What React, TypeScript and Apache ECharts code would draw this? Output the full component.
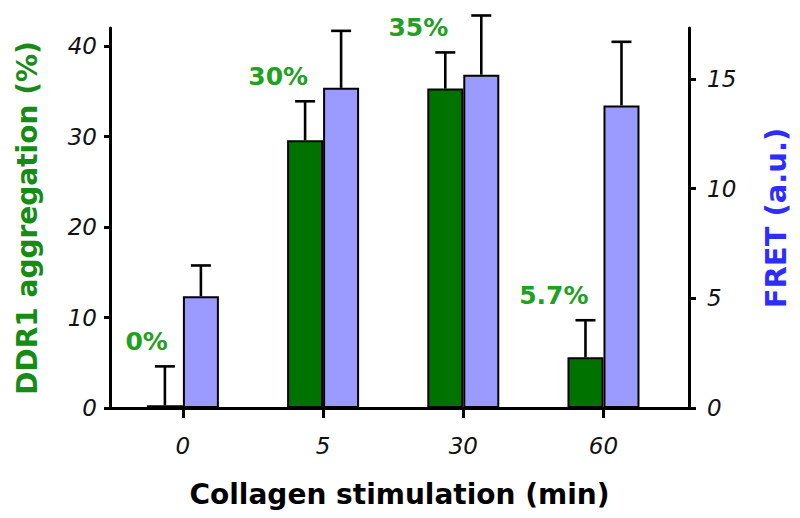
import React, { useEffect, useRef } from 'react';
import * as echarts from 'echarts';

// Collagen stimulation time points (min)
const categories = ['0', '5', '30', '60'];
// DDR1 aggregation (%) — left axis
const aggregation = [0.3, 29.6, 35.3, 5.6];
const aggregationErr = [4.3, 4.3, 4.0, 4.1];
// FRET (a.u.) — right axis
const fret = [5.1, 14.6, 15.2, 13.8];
const fretErr = [1.4, 2.6, 2.7, 2.9];
// annotations above the aggregation bars
const pctLabels = ['0%', '30%', '35%', '5.7%'];
// axis ticks
const leftTicks = [0, 10, 20, 30, 40];
const rightTicks = [0, 5, 10, 15];

const FONT = 'DejaVu Sans';
const BAR_W = 36;
const GREEN_BAR = '#007200';
const BLUE_BAR = '#9a9aff';
const GREEN_TEXT = '#22a022';
const GREEN_NAME = '#168c16';
const BLUE_NAME = '#2d2dff';

export default function App() {
  const ref = useRef<HTMLDivElement>(null);

  useEffect(() => {
    const chart = echarts.init(ref.current!, null, { renderer: 'svg' });
    const idx = categories.map((_, i) => i);

    const errRender = (offset: number, withLabel: boolean) => (params: any, api: any) => {
      const i = api.value(0);
      const base = api.coord([i, api.value(1)]);
      const top = api.coord([i, api.value(2)]);
      const x = top[0] + offset;
      const children: any[] = [
        { type: 'line', shape: { x1: x, y1: base[1], x2: x, y2: top[1] }, style: { stroke: '#000', lineWidth: 2.6 } },
        { type: 'line', shape: { x1: x - 10, y1: top[1], x2: x + 10, y2: top[1] }, style: { stroke: '#000', lineWidth: 2.6 } },
      ];
      if (withLabel) {
        children.push({
          type: 'text',
          x: x + 3,
          y: top[1] - 25,
          style: {
            text: pctLabels[i],
            fill: GREEN_TEXT,
            font: `bold 25px "${FONT}"`,
            align: 'right',
            verticalAlign: 'middle',
          },
        });
      }
      return { type: 'group', children };
    };

    const tickLabelStyle = {
      fontFamily: FONT,
      fontStyle: 'italic' as const,
      fontSize: 23,
      color: '#111111',
    };

    chart.setOption({
      animation: false,
      backgroundColor: '#ffffff',
      grid: { left: 110, right: 111, top: 28, bottom: 110, containLabel: false },
      xAxis: {
        type: 'value',
        min: -0.52,
        max: 3.61,
        axisLine: { show: true, onZero: false, lineStyle: { color: '#000', width: 3 } },
        axisTick: { show: true, customValues: idx, length: 10, lineStyle: { color: '#000', width: 3 } },
        axisLabel: {
          ...tickLabelStyle,
          customValues: idx,
          margin: 26,
          formatter: (v: number) => categories[Math.round(v)] ?? '',
        },
        splitLine: { show: false },
        name: 'Collagen stimulation (min)',
        nameLocation: 'middle',
        nameGap: 72,
        nameTextStyle: { fontFamily: FONT, fontWeight: 'bold', fontSize: 28, color: '#000' },
      },
      yAxis: [
        {
          type: 'value',
          position: 'left',
          min: 0,
          max: 42,
          axisLine: { show: true, onZero: false, lineStyle: { color: '#000', width: 3 } },
          axisTick: { show: true, customValues: leftTicks, length: 6, lineStyle: { color: '#000', width: 3 } },
          axisLabel: { ...tickLabelStyle, customValues: leftTicks, margin: 13 },
          splitLine: { show: false },
          name: 'DDR1 aggregation (%)',
          nameLocation: 'middle',
          nameGap: 69,
          nameTextStyle: { fontFamily: FONT, fontWeight: 'bold', fontSize: 28, color: GREEN_NAME },
        },
        {
          type: 'value',
          position: 'right',
          min: 0,
          max: 17.33,
          axisLine: { show: true, onZero: false, lineStyle: { color: '#000', width: 3 } },
          axisTick: { show: true, customValues: rightTicks, length: 7, lineStyle: { color: '#000', width: 3 } },
          axisLabel: { ...tickLabelStyle, customValues: rightTicks, margin: 18 },
          splitLine: { show: false },
          name: 'FRET (a.u.)',
          nameLocation: 'middle',
          nameGap: 72,
          nameTextStyle: { fontFamily: FONT, fontWeight: 'bold', fontSize: 29, color: BLUE_NAME },
        },
      ],
      series: [
        {
          type: 'bar',
          name: 'DDR1 aggregation',
          xAxisIndex: 0,
          yAxisIndex: 0,
          barWidth: BAR_W,
          barGap: '0%',
          data: idx.map((i) => [i, aggregation[i]]),
          itemStyle: { color: GREEN_BAR, borderColor: '#000', borderWidth: 2 },
        },
        {
          type: 'bar',
          name: 'FRET',
          xAxisIndex: 0,
          yAxisIndex: 1,
          barWidth: BAR_W,
          barGap: '0%',
          data: idx.map((i) => [i, fret[i]]),
          itemStyle: { color: BLUE_BAR, borderColor: '#000', borderWidth: 2 },
        },
        {
          type: 'custom',
          xAxisIndex: 0,
          yAxisIndex: 0,
          clip: false,
          z: 5,
          renderItem: errRender(-BAR_W / 2, true),
          encode: { x: 0, y: [1, 2] },
          data: idx.map((i) => [i, aggregation[i], aggregation[i] + aggregationErr[i]]),
        },
        {
          type: 'custom',
          xAxisIndex: 0,
          yAxisIndex: 1,
          clip: false,
          z: 5,
          renderItem: errRender(BAR_W / 2, false),
          encode: { x: 0, y: [1, 2] },
          data: idx.map((i) => [i, fret[i], fret[i] + fretErr[i]]),
        },
      ],
    });

    return () => chart.dispose();
  }, []);

  return (
    <div
      ref={ref}
      style={{ position: 'fixed', left: 0, top: 0, width: 800, height: 518, background: '#fff' }}
    />
  );
}
